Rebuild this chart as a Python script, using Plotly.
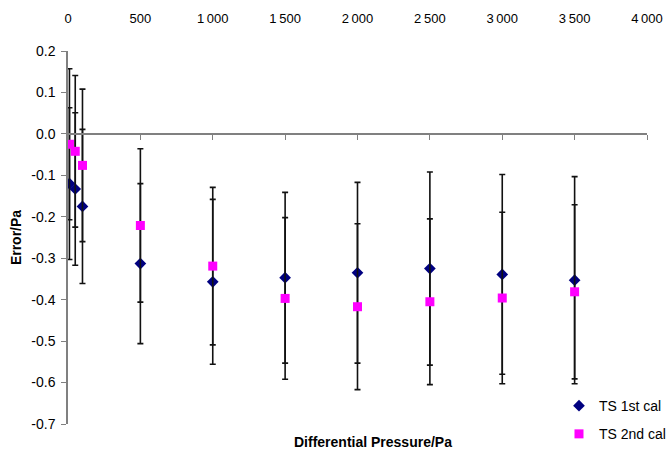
import plotly.graph_objects as go

# Data
pressure = [10, 50, 100, 500, 1000, 1500, 2000, 2500, 3000, 3500]
ts1_error = [-0.120, -0.133, -0.175, -0.313, -0.357, -0.347, -0.335, -0.325, -0.339, -0.353]
ts1_unc = [0.183, 0.184, 0.186, 0.193, 0.199, 0.206, 0.218, 0.233, 0.241, 0.250]
ts2_error = [-0.025, -0.042, -0.076, -0.221, -0.319, -0.397, -0.417, -0.405, -0.396, -0.381]
ts2_unc = [0.182, 0.183, 0.184, 0.185, 0.190, 0.195, 0.200, 0.200, 0.207, 0.210]

x_tickvals = [0, 500, 1000, 1500, 2000, 2500, 3000, 3500, 4000]
x_ticktext = ["0", "500", "1\u2009000", "1\u2009500", "2\u2009000", "2\u2009500", "3\u2009000", "3\u2009500", "4\u2009000"]
y_tickvals = [0.2, 0.1, 0.0, -0.1, -0.2, -0.3, -0.4, -0.5, -0.6, -0.7]
y_ticktext = ["0.2", "0.1", "0.0", "-0.1", "-0.2", "-0.3", "-0.4", "-0.5", "-0.6", "-0.7"]

FONT = "Liberation Sans, Arial, sans-serif"
GRAY = "#808080"

fig = go.Figure()

fig.add_trace(go.Scatter(
    x=pressure, y=ts1_error, mode="markers", name="TS 1st cal",
    legendgroup="a",
    marker=dict(symbol="diamond", size=9, color="#000080"),
    error_y=dict(type="data", array=ts1_unc, visible=True, color="#111111", thickness=1.6, width=3),
))
fig.add_trace(go.Scatter(
    x=pressure, y=ts2_error, mode="markers", name="TS 2nd cal",
    legendgroup="b",
    marker=dict(symbol="square", size=9, color="#FF00FF"),
    error_y=dict(type="data", array=ts2_unc, visible=True, color="#111111", thickness=1.6, width=3),
))

fig.update_layout(
    width=671, height=452,
    margin=dict(l=68, r=24, t=51, b=28, autoexpand=False),
    paper_bgcolor="white", plot_bgcolor="white",
    font=dict(family=FONT, size=14, color="black"),
    showlegend=True,
    legend=dict(
        x=0.848, y=0.091, xanchor="left", yanchor="top",
        bgcolor="rgba(0,0,0,0)", borderwidth=0,
        font=dict(size=14, family=FONT),
        traceorder="grouped", tracegroupgap=7, itemwidth=30,
    ),
    xaxis=dict(
        range=[0, 4000], side="top", automargin=False,
        tickvals=x_tickvals, ticktext=x_ticktext,
        ticks="", showline=False, showgrid=False, zeroline=False,
        ticklabelstandoff=24,
        tickfont=dict(size=13, family=FONT),
    ),
    xaxis2=dict(
        overlaying="x", matches="x", anchor="free", position=0.7/0.9,
        side="bottom", range=[0, 4000], automargin=False,
        tickvals=x_tickvals, showticklabels=False,
        ticks="outside", ticklen=5, tickcolor=GRAY, tickwidth=1,
        showline=True, linecolor=GRAY, linewidth=1.5,
        showgrid=False, zeroline=False,
    ),
    yaxis=dict(
        range=[-0.7, 0.2], automargin=False,
        tickvals=y_tickvals, ticktext=y_ticktext,
        ticks="outside", ticklen=5, tickcolor=GRAY, tickwidth=1,
        showline=True, linecolor=GRAY, linewidth=1.5,
        showgrid=False, zeroline=False,
        ticklabelstandoff=3,
        tickfont=dict(size=14, family=FONT),
        title=dict(text="<b>Error/Pa</b>", font=dict(size=14, family=FONT), standoff=6),
    ),
    annotations=[
        dict(text="<b>Differential Pressure/Pa</b>", xref="paper", yref="paper",
             x=(373 - 68) / 579, y=-(442 - 424) / 373, xanchor="center", yanchor="middle",
             showarrow=False, font=dict(size=14, family=FONT)),
    ],
)

# dummy trace to ensure the zero-line axis is rendered
fig.add_trace(go.Scatter(x=[None], y=[None], xaxis="x2", showlegend=False, hoverinfo="skip"))

fig.write_html(
    "out.html",
    config={"displayModeBar": False},
    post_script="document.body.style.margin='0';document.body.style.overflow='hidden';",
)
